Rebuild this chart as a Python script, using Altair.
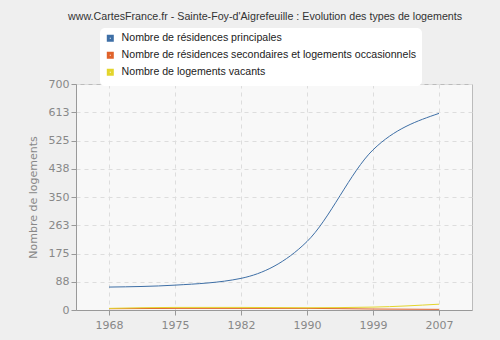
import altair as alt
import pandas as pd

years = ["1968", "1975", "1982", "1990", "1999", "2007"]
principales = [71, 77, 98, 212, 496, 609]
secondaires = [4, 5, 5, 5, 3, 2]
vacants = [5, 8, 8, 7, 9, 18]

s1 = "Nombre de résidences principales"
s2 = "Nombre de résidences secondaires et logements occasionnels"
s3 = "Nombre de logements vacants"

rows = []
for name, vals in [(s1, principales), (s2, secondaires), (s3, vacants)]:
    for y, v in zip(years, vals):
        rows.append({"annee": y, "valeur": v, "serie": name})
df = pd.DataFrame(rows)

color = alt.Color(
    "serie:N",
    scale=alt.Scale(domain=[s1, s2, s3], range=["#3e6fa6", "#e0622a", "#e3d52c"]),
    legend=alt.Legend(
        title=None,
        orient="none",
        legendX=24,
        legendY=-56,
        fillColor="white",
        cornerRadius=5,
        padding=5,
        symbolType="square",
        symbolSize=16,
        symbolStrokeWidth=3,
        labelFontSize=10.6,
        labelFont="Liberation Sans",
        labelColor="#222",
        labelLimit=400,
        labelOffset=6,
        rowPadding=0,
    ),
)

chart = (
    alt.Chart(df)
    .mark_line(interpolate="monotone", strokeWidth=1)
    .encode(
        x=alt.X(
            "annee:O",
            scale=alt.Scale(type="point", padding=0.5),
            axis=alt.Axis(
                title=None,
                labelAngle=0,
                labelColor="#888",
                labelFontSize=11,
                labelFont="DejaVu Sans",
                domainColor="#999",
                tickColor="#999",
                tickSize=5,
                grid=True,
                gridColor="#dddddd",
                gridDash=[4, 4],
                labelPadding=4,
            ),
        ),
        y=alt.Y(
            "valeur:Q",
            scale=alt.Scale(domain=[0, 700], nice=False),
            axis=alt.Axis(
                title="Nombre de logements",
                titleColor="#888",
                titleFontSize=11,
                titleFont="DejaVu Sans",
                titleFontWeight="normal",
                titlePadding=10,
                values=[0, 88, 175, 263, 350, 438, 525, 613, 700],
                labelColor="#888",
                labelFontSize=11,
                labelFont="DejaVu Sans",
                domainColor="#999",
                tickColor="#999",
                tickSize=5,
                gridColor="#dddddd",
                gridDash=[4, 4],
            ),
        ),
        color=color,
    )
    .properties(
        width=396,
        height=226,
        background="#efefef",
        padding={"left": 76, "top": 84, "right": 28, "bottom": 30},
        autosize=alt.AutoSizeParams(type="none"),
        title=alt.TitleParams(
            text="www.CartesFrance.fr - Sainte-Foy-d'Aigrefeuille : Evolution des types de logements",
            anchor="start",
            dx=41,
            offset=5,
            fontSize=10.7,
            font="Liberation Sans",
            fontWeight="normal",
            color="#333",
        ),
    )
    .configure_view(fill="#f8f8f8", stroke="#bbb")
)

chart.save("out.html", embed_options={"renderer": "svg", "actions": False})
